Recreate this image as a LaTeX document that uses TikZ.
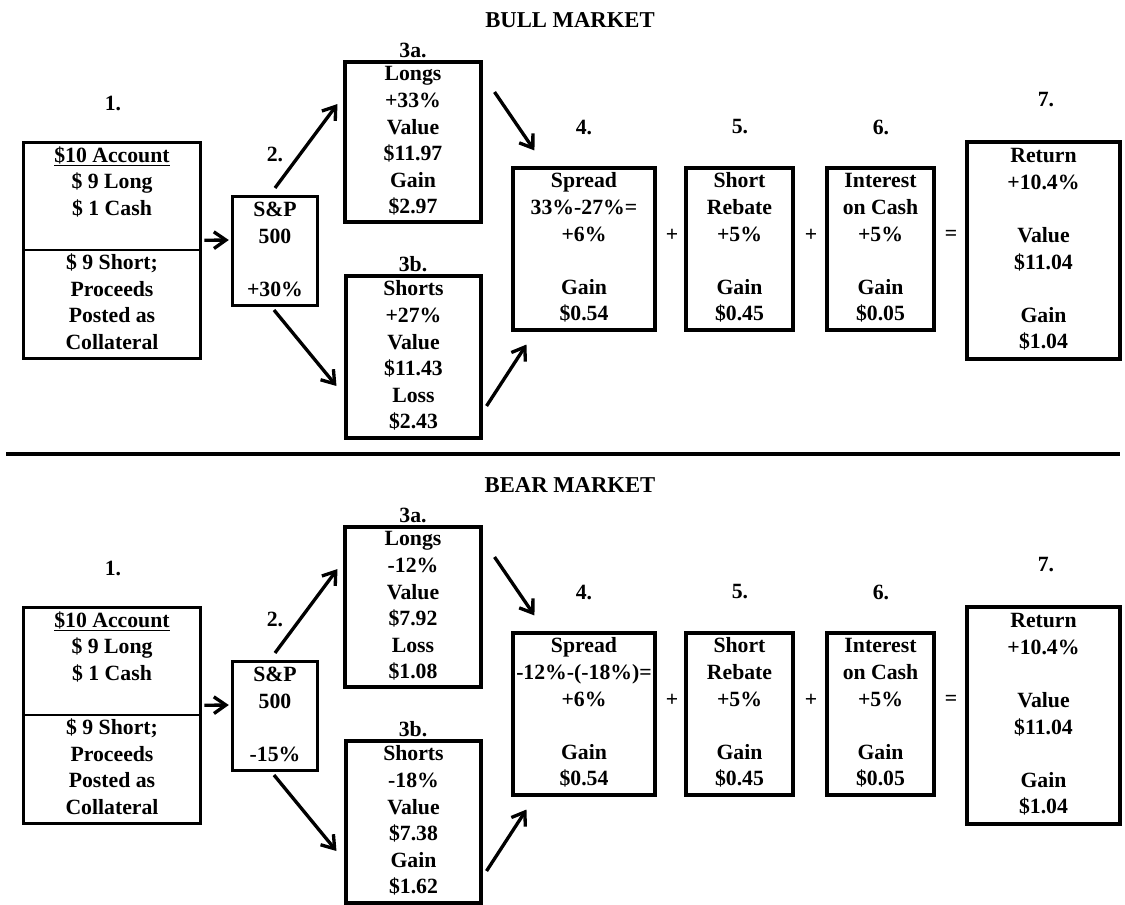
\documentclass[tikz,border=0pt]{standalone}
\usepackage{fontspec}
\setmainfont{Liberation Serif}
\usetikzlibrary{arrows.meta,calc}
\newcommand\txtfont{\fontsize{16.3pt}{19.9pt}\selectfont\bfseries}
\newcommand\ttlfont{\fontsize{17pt}{20pt}\selectfont\bfseries}
\newcommand\rws[1]{\begin{tabular}{@{}c@{}}#1\end{tabular}}
\tikzset{
  box/.style={draw, line width=2.3pt, inner sep=0pt, font=\txtfont},
  half/.style={inner sep=0pt, font=\txtfont, minimum width=132pt},
  lbl/.style={inner sep=0pt, font=\txtfont},
  arr/.style={line width=2.5pt, -{Straight Barb[length=9pt,width=12.5pt]}},
}
% #1 prefix, #2 y offset, #3 title, #4 S&P change, #5 3a rows, #6 3b rows, #7 spread line
\newcommand\mpanel[7]{%
  \node[lbl,font=\ttlfont] (#1title) at (570,{20+#2}) {#3};
  \node[lbl] (#1n1) at (113,{103+#2}) {1.};
  \node[half,minimum height=80.25pt] (#1b1a) at (112,{196.5+#2})
    {\rws{\underline{\$10 Account}\\ \$ 9 Long\\ \$ 1 Cash\\ \mbox{}}};
  \node[half,minimum height=81pt] (#1b1b) at (112,{304+#2})
    {\rws{\$ 9 Short;\\ Proceeds\\ Posted as\\ Collateral}};
  \draw[line width=2.3pt] (#1b1a.north west) rectangle (#1b1b.south east);
  \draw[line width=1.6pt] (#1b1a.south west) -- (#1b1a.south east);
  \node[lbl] (#1n2) at (275,{154+#2}) {2.};
  \node[box,minimum width=64pt,minimum height=81.75pt] (#1sp) at (275,{251+#2})
    {\rws{S\&P\\ 500\\ \mbox{}\\ #4}};
  \node[lbl] (#1n3a) at (413,{50+#2}) {3a.};
  \node[box,minimum width=102pt,minimum height=120pt] (#1a3) at (413,{142+#2}) {\rws{#5}};
  \node[lbl] (#1n3b) at (413,{264+#2}) {3b.};
  \node[box,minimum width=101.25pt,minimum height=121.5pt] (#1b3) at (413.5,{357+#2}) {\rws{#6}};
  \node[lbl] (#1n4) at (584,{127+#2}) {4.};
  \node[box,minimum width=106.5pt,minimum height=121.5pt] (#1b4) at (584,{249+#2})
    {\rws{Spread\\ #7\\ +6\%\\ \mbox{}\\ Gain\\ \$0.54}};
  \node[lbl] (#1p1) at (672,{235+#2}) {+};
  \node[lbl] (#1n5) at (740,{127+#2}) {5.};
  \node[box,minimum width=80.25pt,minimum height=121.5pt] (#1b5) at (739.5,{249+#2})
    {\rws{Short\\ Rebate\\ +5\%\\ \mbox{}\\ Gain\\ \$0.45}};
  \node[lbl] (#1p2) at (811,{235+#2}) {+};
  \node[lbl] (#1n6) at (881,{127+#2}) {6.};
  \node[box,minimum width=80.25pt,minimum height=121.5pt] (#1b6) at (880.5,{249+#2})
    {\rws{Interest\\ on Cash\\ +5\%\\ \mbox{}\\ Gain\\ \$0.05}};
  \node[lbl] (#1eq) at (951,{235+#2}) {=};
  \node[lbl] (#1n7) at (1046,{100+#2}) {7.};
  \node[box,minimum width=114.75pt,minimum height=162.75pt] (#1b7) at (1043.5,{250.5+#2})
    {\rws{Return\\ +10.4\%\\ \mbox{}\\ Value\\ \$11.04\\ \mbox{}\\ Gain\\ \$1.04}};
  \draw[arr] ($(#1b1a.south east)+(4,-10)$) -- ($(#1sp.west)+(-2,-11)$);
  \draw[arr] ($(#1sp.north)+(0,-7)$) -- ($(#1a3.west)+(-6,-38)$);
  \draw[arr] ($(#1sp.south)+(-1,3)$) -- ($(#1b3.west)+(-8,29)$);
  \draw[arr] ($(#1a3.east)+(12,-50)$) -- ($(#1b4.north west)+(23,-16)$);
  \draw[arr] ($(#1b3.east)+(4,49)$) -- ($(#1b4.south west)+(15,13)$);
}
\begin{document}
\begin{tikzpicture}[x=0.75pt,y=-0.75pt]
  \fill[white] (0,0) rectangle (1125,904);
  \useasboundingbox (0,0) rectangle (1125,904);
  \mpanel{t}{0}{BULL MARKET}{+30\%}
    {Longs\\ +33\%\\ Value\\ \$11.97\\ Gain\\ \$2.97}
    {Shorts\\ +27\%\\ Value\\ \$11.43\\ Loss\\ \$2.43}
    {33\%-27\%=}
  \draw[line width=2.3pt] (6,454) -- (1120,454);
  \mpanel{u}{465}{BEAR MARKET}{-15\%}
    {Longs\\ -12\%\\ Value\\ \$7.92\\ Loss\\ \$1.08}
    {Shorts\\ -18\%\\ Value\\ \$7.38\\ Gain\\ \$1.62}
    {-12\%-(-18\%)=}
\end{tikzpicture}
\end{document}
